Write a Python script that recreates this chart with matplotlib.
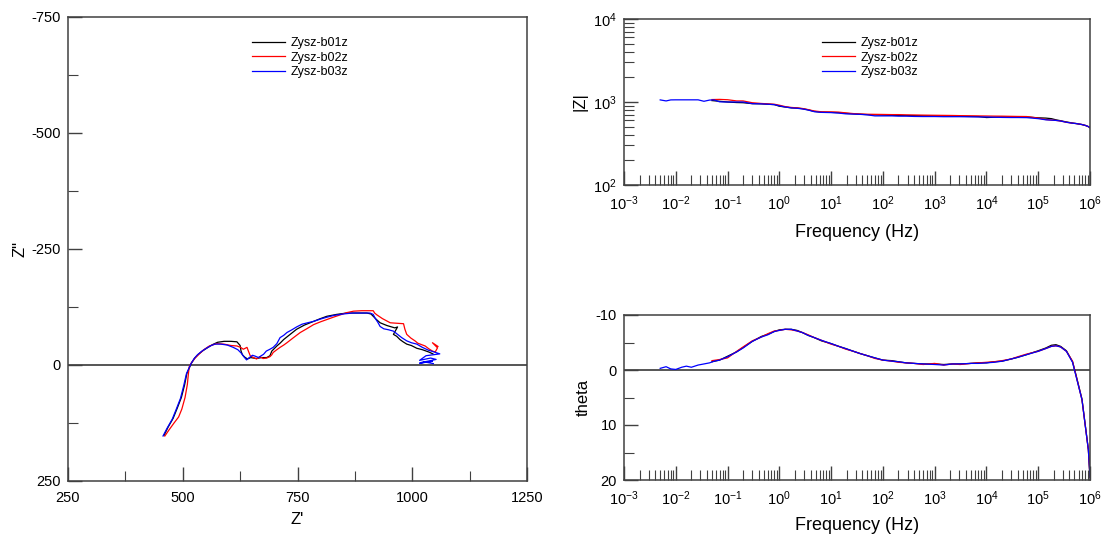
import matplotlib
matplotlib.use("Agg")
import matplotlib.pyplot as plt
from matplotlib.ticker import MultipleLocator, LogLocator, NullFormatter

plt.rcParams["font.family"] = ["Liberation Sans", "DejaVu Sans"]
plt.rcParams["mathtext.fontset"] = "custom"
plt.rcParams["mathtext.rm"] = "Liberation Sans"
plt.rcParams["axes.unicode_minus"] = False

# --- Nyquist: Z' / Z'' (high frequency first) ---
zre_b01 = [459, 468, 479, 488, 497, 504, 509, 514, 519, 526, 534, 544, 555, 565, 576, 590, 605, 618, 625, 627,
           630, 635, 641, 648, 660, 672, 683, 690, 694, 700, 705, 712, 720, 734, 748, 765, 785, 800, 814, 835,
           857, 880, 901, 910, 915, 922, 930, 945, 962, 968, 959, 966, 973, 980, 988, 998, 1010, 1022, 1036, 1045]
zim_b01 = [152, 134, 115, 93, 70, 43, 18, 7, -4, -15, -23, -31, -38, -44, -49, -51, -51, -50, -42, -30,
           -22, -17, -13, -16, -14, -16, -16, -20, -30, -36, -41, -47, -55, -66, -77, -86, -94, -100, -105, -109,
           -112, -112, -112, -110, -105, -98, -91, -85, -80, -82, -66, -62, -55, -50, -45, -42, -36, -33, -28, -24]

zre_b02 = [461, 470, 481, 491, 498, 505, 510, 512, 514, 519, 527, 536, 546, 558, 574, 590, 605, 618, 626, 632,
           640, 643, 647, 654, 661, 668, 675, 683, 690, 694, 697, 705, 712, 720, 727, 740, 756, 770, 785, 800,
           814, 828, 843, 858, 872, 890, 905, 915, 918, 923, 935, 952, 966, 981, 984, 988, 997, 1006, 1012, 1020,
           1028, 1036, 1044, 1050, 1055, 1044, 1056]
zim_b02 = [153, 140, 125, 112, 95, 70, 42, 22, 4, -5, -15, -24, -33, -41, -46, -45, -42, -41, -38, -34,
           -38, -30, -20, -16, -13, -18, -14, -15, -18, -22, -27, -33, -38, -43, -48, -58, -70, -78, -87, -93,
           -98, -103, -108, -113, -116, -117, -117, -117, -112, -108, -100, -91, -90, -89, -77, -66, -58, -52, -47, -44,
           -41, -35, -30, -28, -37, -48, -40]

zre_b03 = [457, 466, 477, 486, 495, 502, 508, 513, 518, 525, 532, 542, 553, 562, 570, 583, 597, 610, 620, 628,
           633, 639, 645, 652, 658, 665, 671, 676, 682, 690, 697, 705, 712, 720, 727, 738, 748, 760, 772, 785,
           800, 814, 830, 850, 870, 890, 908, 915, 919, 925, 930, 938, 948, 959, 968, 977, 988, 998, 1010, 1022,
           1035, 1048, 1060, 1030, 1016, 1040, 1052, 1018, 1044, 1016, 1030, 1046]
zim_b03 = [153, 136, 117, 95, 72, 45, 19, 8, -3, -14, -22, -30, -37, -42, -45, -45, -43, -38, -33, -25,
           -18, -11, -16, -21, -19, -16, -20, -23, -30, -34, -38, -46, -59, -64, -70, -76, -82, -88, -91, -94,
           -99, -103, -107, -110, -112, -112, -112, -109, -101, -92, -83, -78, -76, -73, -66, -59, -52, -48, -45, -38,
           -32, -28, -24, -20, -10, -15, -12, -5, -8, -4, -6, -3]

# --- Bode ---
freq_b03 = [0.005, 0.0065, 0.008, 0.01, 0.013, 0.016, 0.02, 0.027, 0.035, 0.045,
            0.055, 0.07, 0.1, 0.15, 0.2, 0.3, 0.45, 0.6, 0.8, 1.0,
            1.3, 1.7, 2.2, 2.8, 3.6, 4.7, 6.5, 10, 14, 19,
            27, 36, 50, 70, 100, 150, 200, 280, 400, 600,
            1000, 1500, 2200, 3100, 5000, 7000, 1e4, 1.4e4, 2e4, 3e4,
            4e4, 6e4, 1e5, 1.4e5, 1.8e5, 2.2e5, 2.7e5, 3.5e5, 4.6e5, 5.4e5,
            7e5, 8.3e5, 9.3e5, 1e6]
modz_b03 = [1060, 1030, 1060, 1062, 1062, 1062, 1062, 1062, 1020, 1055,
            1060, 1005, 1000, 1000, 1000, 955, 950, 940, 930, 900,
            870, 850, 840, 825, 800, 765, 750, 745, 735, 720,
            715, 710, 700, 680, 680, 680, 675, 675, 670, 668,
            668, 665, 665, 665, 662, 660, 660, 655, 652, 650,
            650, 648, 630, 610, 605, 600, 590, 570, 555, 550,
            535, 520, 505, 490]
theta_b03 = [-0.3, -0.6, -0.2, -0.1, -0.5, -0.7, -0.5, -0.9, -1.1, -1.3,
             -1.6, -1.8, -2.4, -3.3, -4.0, -5.2, -6.0, -6.4, -7.0, -7.2,
             -7.4, -7.4, -7.1, -6.8, -6.3, -5.9, -5.4, -4.8, -4.3, -3.9,
             -3.4, -3.0, -2.6, -2.2, -1.8, -1.6, -1.5, -1.3, -1.2, -1.1,
             -1.0, -0.9, -1.1, -1.1, -1.2, -1.2, -1.3, -1.4, -1.6, -2.0,
             -2.3, -2.8, -3.4, -3.9, -4.3, -4.4, -4.2, -3.4, -1.4, 1.2,
             5.4, 10.9, 14.5, 19.5]

freq_b01 = [0.05, 0.07, 0.1, 0.15, 0.2, 0.3, 0.45, 0.6, 0.8, 1.0,
            1.3, 1.7, 2.2, 2.8, 3.6, 4.7, 6.5, 10, 14, 19,
            27, 36, 50, 70, 100, 150, 200, 280, 400, 600,
            1000, 1500, 2200, 3100, 5000, 7000, 1e4, 1.4e4, 2e4, 3e4,
            4e4, 6e4, 1e5, 1.4e5, 1.8e5, 2.2e5, 2.7e5, 3.5e5, 4.6e5, 5.4e5,
            7e5, 8.3e5, 9.3e5, 1e6]
freq_b02 = list(freq_b01)
modz_b01 = [1040, 1020, 1000, 985, 980, 955, 950, 940, 930, 890,
            870, 850, 845, 830, 805, 770, 755, 750, 745, 730,
            720, 712, 705, 700, 695, 690, 690, 688, 685, 682,
            680, 676, 674, 672, 670, 668, 650, 655, 660, 660,
            662, 660, 645, 640, 630, 610, 595, 575, 558, 550,
            535, 520, 505, 490]
modz_b02 = [1070, 1075, 1065, 1030, 1030, 980, 960, 950, 940, 915,
            880, 860, 850, 835, 810, 780, 762, 760, 755, 740,
            725, 718, 712, 710, 708, 705, 705, 700, 698, 695,
            692, 690, 688, 685, 682, 680, 678, 676, 675, 672,
            670, 668, 640, 615, 605, 600, 590, 570, 555, 550,
            535, 520, 505, 490]
theta_b01 = [-1.5, -1.8, -2.5, -3.3, -4.1, -5.2, -6.1, -6.5, -7.0, -7.3,
             -7.4, -7.4, -7.2, -6.8, -6.3, -5.9, -5.3, -4.8, -4.3, -3.9,
             -3.4, -3.0, -2.6, -2.2, -1.8, -1.7, -1.5, -1.3, -1.2, -1.1,
             -1.1, -1.0, -1.1, -1.1, -1.2, -1.3, -1.3, -1.5, -1.6, -2.0,
             -2.3, -2.8, -3.5, -4.0, -4.5, -4.6, -4.3, -3.5, -1.5, 1.0,
             5.3, 10.8, 14.5, 19.5]
theta_b02 = [-1.7, -1.9, -2.2, -3.4, -4.2, -5.3, -6.0, -6.6, -7.1, -7.2,
             -7.4, -7.3, -7.1, -6.8, -6.4, -5.9, -5.4, -4.7, -4.3, -3.8,
             -3.4, -3.0, -2.6, -2.1, -1.8, -1.6, -1.4, -1.3, -1.2, -1.0,
             -1.2, -0.9, -1.1, -1.0, -1.2, -1.3, -1.4, -1.5, -1.7, -2.0,
             -2.4, -2.9, -3.4, -3.9, -4.3, -4.4, -4.2, -3.4, -1.6, 1.1,
             5.4, 10.9, 14.5, 19.5]

labels = ["Zysz-b01z", "Zysz-b02z", "Zysz-b03z"]
colors = ["black", "red", "blue"]
spine_col = "#404040"


def style_axes(ax):
    for s in ax.spines.values():
        s.set_color(spine_col)
        s.set_linewidth(1.1)
    ax.tick_params(which="both", direction="in", top=False, right=False,
                   colors=spine_col, labelcolor="black", labelsize=10.5)
    ax.tick_params(which="major", length=10, width=1.0)
    ax.tick_params(which="minor", length=7, width=0.8)
    ax.tick_params(axis="x", which="both", pad=7)
    ax.tick_params(axis="y", which="both", pad=5)


fig = plt.figure(figsize=(11.11, 5.43), dpi=100)
W, H = 1111, 543

# ==== Nyquist ====
ax1 = fig.add_axes([68 / W, 1 - 481 / H, (527 - 68) / W, (481 - 17) / H])
for zr, zi, c, lab in zip([zre_b01, zre_b02, zre_b03], [zim_b01, zim_b02, zim_b03], colors, labels):
    ax1.plot(zr, zi, color=c, lw=0.9, label=lab)
ax1.axhline(0, color="#555555", lw=1.4, zorder=0)
ax1.set_xlim(250, 1250)
ax1.set_ylim(250, -750)
ax1.xaxis.set_major_locator(MultipleLocator(250))
ax1.xaxis.set_minor_locator(MultipleLocator(125))
ax1.yaxis.set_major_locator(MultipleLocator(250))
ax1.yaxis.set_minor_locator(MultipleLocator(125))
style_axes(ax1)
ax1.set_xlabel("Z'", fontsize=12, labelpad=5)
ax1.set_ylabel('Z"', fontsize=12, labelpad=3)
ax1.legend(loc="upper left", bbox_to_anchor=(252 / W, 1 - 37 / H), bbox_transform=fig.transFigure,
           frameon=False, fontsize=9, borderpad=0, borderaxespad=0, handlelength=2.6,
           handletextpad=0.5, labelspacing=0.2)

# ==== |Z| vs frequency ====
ax2 = fig.add_axes([624 / W, 1 - 185 / H, (1090 - 624) / W, (185 - 19) / H])
for f, m, c, lab in zip([freq_b01, freq_b02, freq_b03], [modz_b01, modz_b02, modz_b03], colors, labels):
    ax2.plot(f, m, color=c, lw=0.9, label=lab)
ax2.set_xscale("log")
ax2.set_yscale("log")
ax2.set_xlim(1e-3, 1e6)
ax2.set_ylim(1e2, 1e4)
ax2.xaxis.set_major_locator(LogLocator(base=10, numticks=20))
ax2.xaxis.set_minor_locator(LogLocator(base=10, subs=range(2, 10), numticks=20))
ax2.xaxis.set_minor_formatter(NullFormatter())
ax2.yaxis.set_minor_formatter(NullFormatter())
style_axes(ax2)
ax2.set_xlabel("Frequency (Hz)", fontsize=13, labelpad=8)
ax2.set_ylabel("|Z|", fontsize=12, labelpad=4)
ax2.legend(loc="upper left", bbox_to_anchor=(822 / W, 1 - 37 / H), bbox_transform=fig.transFigure,
           frameon=False, fontsize=9, borderpad=0, borderaxespad=0, handlelength=2.6,
           handletextpad=0.5, labelspacing=0.2)

# ==== theta vs frequency ====
ax3 = fig.add_axes([624 / W, 1 - 480 / H, (1090 - 624) / W, (480 - 315) / H])
for f, t, c in zip([freq_b01, freq_b02, freq_b03], [theta_b01, theta_b02, theta_b03], colors):
    ax3.plot(f, t, color=c, lw=0.9)
ax3.axhline(0, color="#555555", lw=1.4, zorder=0)
ax3.set_xscale("log")
ax3.set_xlim(1e-3, 1e6)
ax3.set_ylim(20, -10)
ax3.xaxis.set_major_locator(LogLocator(base=10, numticks=20))
ax3.xaxis.set_minor_locator(LogLocator(base=10, subs=range(2, 10), numticks=20))
ax3.xaxis.set_minor_formatter(NullFormatter())
ax3.yaxis.set_major_locator(MultipleLocator(10))
ax3.yaxis.set_minor_locator(MultipleLocator(5))
style_axes(ax3)
ax3.set_xlabel("Frequency (Hz)", fontsize=13, labelpad=6)
ax3.set_ylabel("theta", fontsize=12, labelpad=4)

fig.savefig("out.png", dpi=100)
